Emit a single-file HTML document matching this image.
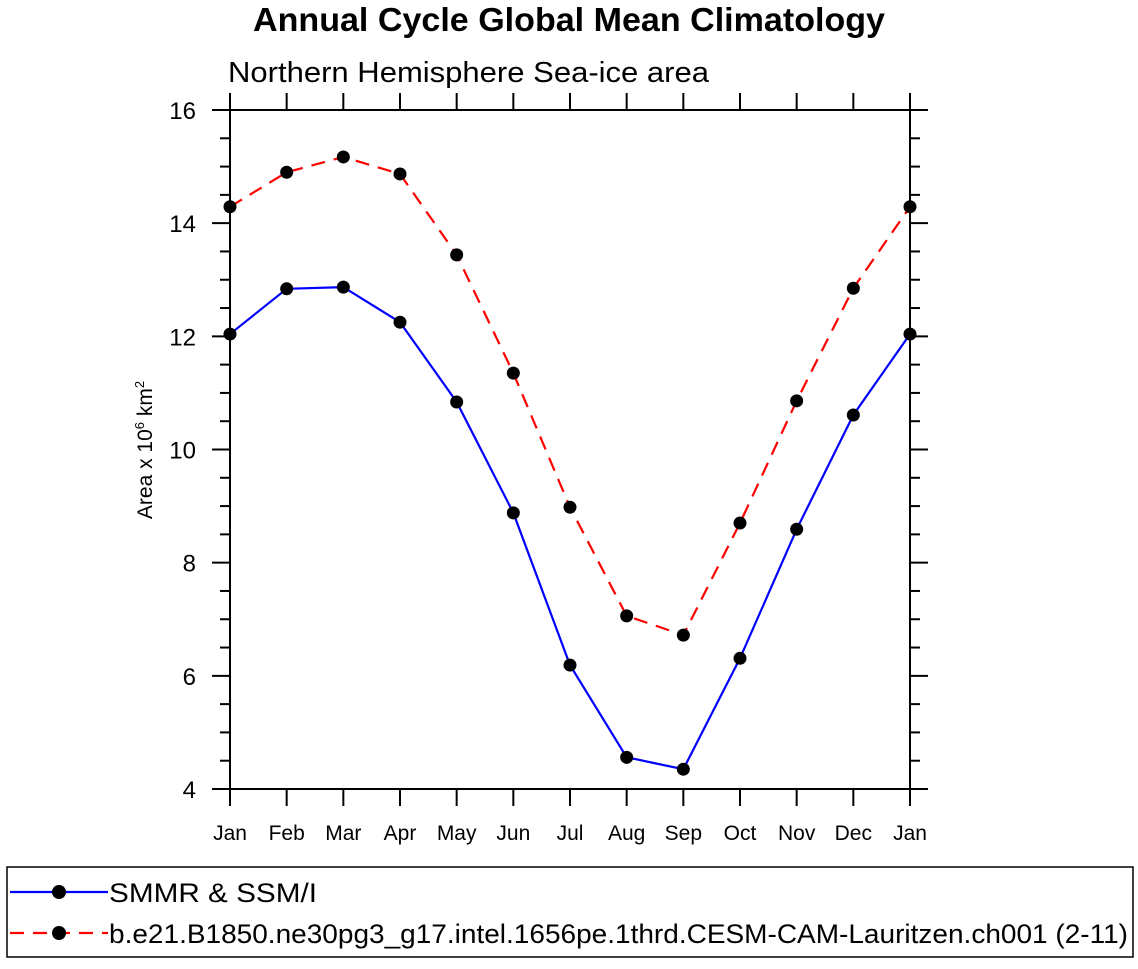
<!DOCTYPE html>
<html><head><meta charset="utf-8"><style>
body{margin:0;background:#fff;}
svg text{font-family:"Liberation Sans",sans-serif;}
</style></head><body>
<svg id="chart" width="1138" height="964" xmlns="http://www.w3.org/2000/svg">
<text x="569" y="31" text-anchor="middle" font-size="33" font-weight="bold" textLength="632" lengthAdjust="spacingAndGlyphs">Annual Cycle Global Mean Climatology</text>
<text x="228" y="82" font-size="29" textLength="481" lengthAdjust="spacingAndGlyphs">Northern Hemisphere Sea-ice area</text>
<text transform="translate(152,450) rotate(-90)" text-anchor="middle" font-size="21">Area x 10<tspan dy="-8" font-size="13">6</tspan><tspan dy="8"> km</tspan><tspan dy="-8" font-size="13">2</tspan></text>
<g id="axes"></g>
<g id="series"></g>
<rect x="7" y="867" width="1126" height="90" fill="none" stroke="#000" stroke-width="1.5"/>
<g>
<line x1="10" y1="892" x2="108" y2="892" stroke="#0000ff" stroke-width="2.2"/>
<circle cx="59" cy="892" r="7" fill="#000"/>
<text x="109" y="902" font-size="27" textLength="208" lengthAdjust="spacingAndGlyphs">SMMR &amp; SSM/I</text></g>
<g>
<line x1="10" y1="933" x2="108" y2="933" stroke="#ff0000" stroke-width="2.2" stroke-dasharray="14,9"/>
<circle cx="59" cy="933" r="7" fill="#000"/>
<text x="109" y="943" font-size="27" textLength="1019" lengthAdjust="spacingAndGlyphs">b.e21.B1850.ne30pg3_g17.intel.1656pe.1thrd.CESM-CAM-Lauritzen.ch001 (2-11)</text></g>
</svg>
<script>
const months=["Jan","Feb","Mar","Apr","May","Jun","Jul","Aug","Sep","Oct","Nov","Dec","Jan"];
const obsValues=[12.04,12.84,12.87,12.25,10.84,8.88,6.19,4.56,4.35,6.31,8.59,10.61,12.04];
const modelValues=[14.29,14.90,15.17,14.87,13.44,11.35,8.98,7.06,6.72,8.70,10.86,12.85,14.29];
const yTicks=[4,6,8,10,12,14,16];
const NS="http://www.w3.org/2000/svg";
const X0=230,X1=910,Y0=789,Y1=110,YMIN=4,YMAX=16;
const xs=i=>X0+(X1-X0)*i/(months.length-1);
const ys=v=>Y0-(Y0-Y1)*(v-YMIN)/(YMAX-YMIN);
function mk(t,a,p){const e=document.createElementNS(NS,t);for(const k in a)e.setAttribute(k,a[k]);p.appendChild(e);return e;}
const ax=document.getElementById('axes');
const fr=mk('rect',{x:X0,y:Y1,width:X1-X0,height:Y0-Y1,fill:'none',stroke:'#000','stroke-width':2},ax);


for(let v=YMIN;v<=YMAX+1e-9;v+=0.5){
 const maj=Math.abs(v/2-Math.round(v/2))<1e-6;const L=maj?18:10;const y=ys(v);
 mk('line',{x1:X0-L,y1:y,x2:X0,y2:y,stroke:'#000','stroke-width':2},ax);
 mk('line',{x1:X1,y1:y,x2:X1+L,y2:y,stroke:'#000','stroke-width':2},ax);
}
yTicks.forEach(v=>{const t=mk('text',{x:X0-34,y:ys(v)+9,'text-anchor':'end','font-size':24},ax);t.textContent=v;

});
months.forEach((m,i)=>{const x=xs(i);
 mk('line',{x1:x,y1:Y0,x2:x,y2:Y0+17,stroke:'#000','stroke-width':2},ax);
 mk('line',{x1:x,y1:Y1-17,x2:x,y2:Y1,stroke:'#000','stroke-width':2},ax);
 const t=mk('text',{x:x,y:840,'text-anchor':'middle','font-size':21},ax);t.textContent=m;
 
 });
const sg=document.getElementById('series');
function series(vals,color,dash,name){
 const g=mk('g',{},sg);
 
 
 const a={points:vals.map((v,i)=>xs(i)+','+ys(v)).join(' '),fill:'none',stroke:color,'stroke-width':2.2};
 if(dash)a['stroke-dasharray']=dash;
 mk('polyline',a,g);
 vals.forEach((v,i)=>{const c=mk('circle',{cx:xs(i),cy:ys(v),r:6.5,fill:'#000'},g);
 
 });
}
series(obsValues,'#0000ff',null,'series-smmr');
series(modelValues,'#ff0000','14,9','series-model');
</script>
</body></html>
